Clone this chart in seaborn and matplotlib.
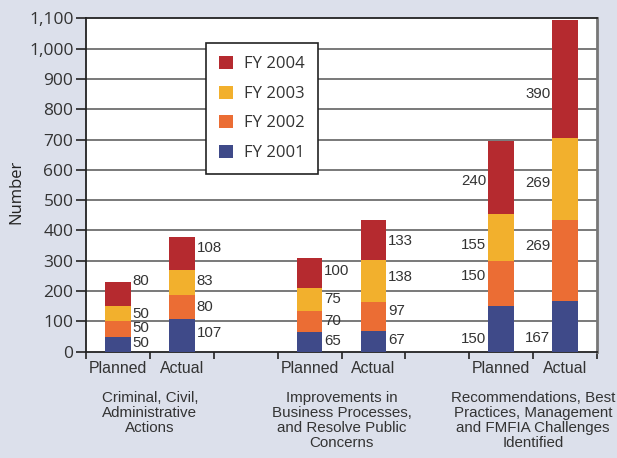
import matplotlib
matplotlib.use("Agg")
import matplotlib.pyplot as plt
from matplotlib.patches import Patch
from matplotlib.ticker import FuncFormatter, FixedLocator
import numpy as np
import pandas as pd
import seaborn as sns

# ---- data -------------------------------------------------------------
groups = ["Criminal, Civil,\nAdministrative\nActions",
          "Improvements in\nBusiness Processes,\nand Resolve Public\nConcerns",
          "Recommendations, Best\nPractices, Management\nand FMFIA Challenges\nIdentified"]
bar_kinds = ["Planned", "Actual"]
years = ["FY 2001", "FY 2002", "FY 2003", "FY 2004"]

# one row per bar (Planned/Actual for each group), one column per year
fy2001 = [50, 107, 65, 67, 150, 167]
fy2002 = [50, 80, 70, 97, 150, 269]
fy2003 = [50, 83, 75, 138, 155, 269]
fy2004 = [80, 108, 100, 133, 240, 390]

# vertical anchor of each printed value, per bar, bottom segment first
label_heights = [
    [28, 77, 123, 232],
    [61, 148, 233, 341],
    [35, 101, 174, 267],
    [39, 134, 247, 365],
    [42, 251, 352, 563],
    [44, 349, 556, 850],
]

colors = {"FY 2001": "#3f4a89", "FY 2002": "#eb6d34",
          "FY 2003": "#f2b02d", "FY 2004": "#b52a2f"}
bg = "#dce0eb"

# bars sit at slots 0,1 / 3,4 / 6,7 with an empty slot between groups
positions = [0, 1, 3, 4, 6, 7]
values = np.array([fy2001, fy2002, fy2003, fy2004])   # shape (year, bar)
cumulative = values.cumsum(axis=0)

df = pd.DataFrame({"pos": positions})
for i, y in enumerate(years):
    df[y] = values[i]
    df[y + " top"] = cumulative[i]

# ---- figure -----------------------------------------------------------
sns.set_theme(style="white")
plt.rcParams["font.family"] = ["Liberation Sans", "DejaVu Sans"]

fig = plt.figure(figsize=(6.17, 4.58), dpi=100, facecolor=bg)
ax = fig.add_axes([86 / 617, 1 - 351.7 / 458, 511 / 617, 333.4 / 458])
ax.set_facecolor("white")

# draw from the full stack downward so each layer covers the one above it
for y in reversed(years):
    sns.barplot(data=df, x="pos", y=y + " top", native_scale=True,
                width=0.4, color=colors[y], saturation=1, errorbar=None,
                linewidth=0, ax=ax, zorder=3)

ax.set_xlim(-0.5, 7.5)
ax.set_ylim(0, 1100)

# y axis
ax.yaxis.set_major_locator(FixedLocator(np.arange(0, 1101, 100)))
ax.yaxis.set_major_formatter(FuncFormatter(lambda v, _: f"{int(v):,}"))
for lab in ax.get_yticklabels():
    lab.set_fontfamily(["Open Sans", "DejaVu Sans"])
ax.tick_params(axis="y", which="major", direction="out", length=7, width=1.2,
               color="#222222", labelsize=12.5, labelcolor="#333333", pad=2,
               left=True)
for v in range(100, 1100, 100):
    ax.axhline(v, color="#6e6e6e", lw=1.3, zorder=1)

# x axis: boundary ticks, bar-type labels under each bar
ax.xaxis.set_major_locator(FixedLocator(np.arange(-0.5, 7.6, 1)))
ax.xaxis.set_major_formatter(FuncFormatter(lambda v, _: ""))
ax.xaxis.set_minor_locator(FixedLocator(positions))
ax.set_xticklabels([bar_kinds[i % 2] for i in range(6)], minor=True)
ax.tick_params(axis="x", which="major", direction="out", length=5, width=1.2,
               color="#222222", bottom=True)
ax.tick_params(axis="x", which="minor", length=0, labelsize=11.4,
               labelcolor="#333333", pad=7)
ax.set_xlabel("")
ax.set_ylabel("Number", fontsize=12, color="#222222",
              fontfamily=["Open Sans", "DejaVu Sans"])
ax.yaxis.set_label_coords(-0.121, 0.479)

for side in ["left", "bottom", "top"]:
    ax.spines[side].set_color("#222222")
    ax.spines[side].set_linewidth(1.3)
ax.spines["right"].set_color("#777777")
ax.spines["right"].set_linewidth(2)

# group captions below the axis
for g, centre in zip(groups, [0.5, 3.5, 6.5]):
    ax.text(centre, -0.118, g, transform=ax.get_xaxis_transform(),
            ha="center", va="top", fontsize=10.9, color="#333333",
            linespacing=1.08, clip_on=False)

# value labels: right of the bars for the first two groups, left for the third
for b, pos in enumerate(positions):
    for i in range(len(years)):
        txt = str(values[i, b])
        yv = label_heights[b][i]
        if pos < 6:
            ax.text(pos + 0.23, yv, txt, ha="left", va="center",
                    fontsize=10.8, color="#333333", zorder=4)
        else:
            ax.text(pos - 0.23, yv, txt, ha="right", va="center",
                    fontsize=10.8, color="#333333", zorder=4)

handles = [Patch(facecolor=colors[y], edgecolor="none") for y in reversed(years)]
leg = ax.legend(handles, list(reversed(years)), loc="upper left",
                bbox_to_anchor=(0.235, 0.926), borderaxespad=0,
                frameon=True, fancybox=False, edgecolor="#222222",
                prop={"family": ["Open Sans", "DejaVu Sans"], "size": 12},
                handlelength=0.8, handleheight=0.8, handletextpad=0.65,
                labelspacing=0.8, borderpad=0.8, framealpha=1)
leg.get_frame().set_linewidth(1.2)
for t in leg.get_texts():
    t.set_color("#333333")
leg.set_zorder(5)

fig.savefig("out.png", dpi=100, facecolor=bg)
